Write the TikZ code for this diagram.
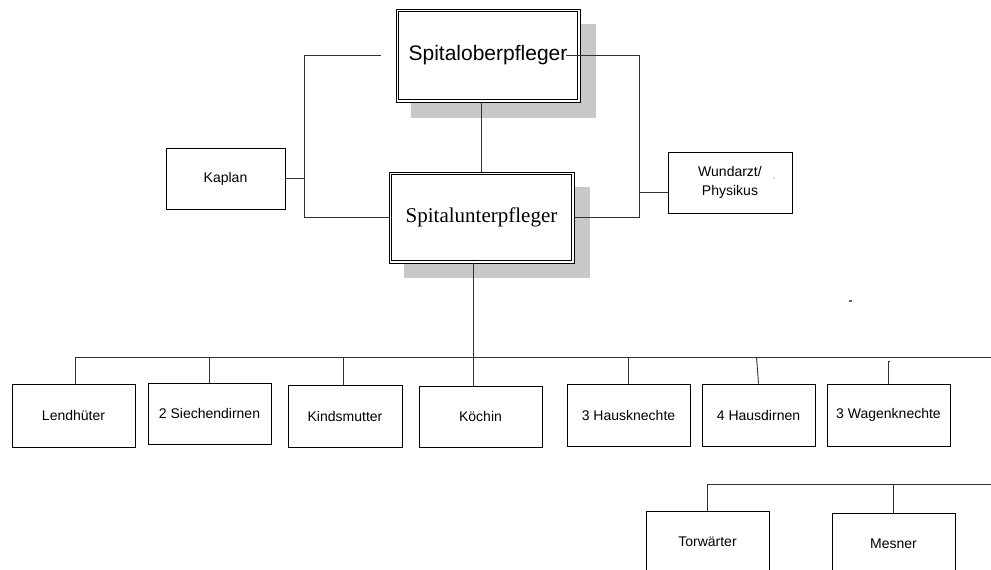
\documentclass[tikz,border=0pt]{standalone}
\usepackage{fontspec}
\setmainfont{Liberation Sans}
\newfontfamily\timesrm{Liberation Serif}
\usetikzlibrary{calc}
\definecolor{shadowc}{RGB}{200,200,200}
\definecolor{linec}{RGB}{50,50,50}
\tikzset{
  x=1pt, y=-1pt,
  smallbox/.style={draw=black, line width=0.9pt, inner sep=0pt, fill=white,
    font=\fontsize{14}{19}\selectfont, align=center},
  bigbox/.style={draw=black, line width=0.9pt, inner sep=0pt, fill=white},
  innerline/.style={draw=black, line width=0.9pt},
  conn/.style={draw=linec, line width=0.9pt}
}
\begin{document}
\begin{tikzpicture}
\clip (0,0) rectangle (991,570);
\fill[white] (0,0) rectangle (991,570);

% shadows
\fill[shadowc] (411,24) rectangle (596,118);
\fill[shadowc] (404,187) rectangle (590,278);

% main boxes
\node[bigbox, minimum width=184pt, minimum height=93pt, font=\fontsize{21}{24}\selectfont]
  (ober) at (488,55.5) {Spitaloberpfleger};
\draw[innerline] ([shift={(3.3pt,-3.3pt)}]ober.north west) rectangle ([shift={(-3.3pt,3.3pt)}]ober.south east);
\node[bigbox, minimum width=185pt, minimum height=91pt, font=\timesrm\fontsize{21}{24}\selectfont]
  (unter) at (481.5,217.5) {Spitalunterpfleger};
\draw[innerline] ([shift={(3.3pt,-3.3pt)}]unter.north west) rectangle ([shift={(-3.3pt,3.3pt)}]unter.south east);

% side boxes
\node[smallbox, minimum width=119pt, minimum height=61pt] (kap) at (225.5,178.5) {Kaplan};
\node[smallbox, minimum width=124pt, minimum height=61pt] (wund) at (730,182.5) {Wundarzt/\\Physikus};

% lower row
\node[smallbox, minimum width=123pt, minimum height=63pt] (lend) at (73.5,415.5) {Lendhüter};
\node[smallbox, minimum width=123pt, minimum height=61pt] (sie) at (209.5,413.5) {2 Siechendirnen};
\node[smallbox, minimum width=114pt, minimum height=62pt] (kind) at (345,416) {Kindsmutter};
\node[smallbox, minimum width=123pt, minimum height=61pt] (koch) at (480.5,416.5) {Köchin};
\node[smallbox, minimum width=123pt, minimum height=62pt] (hk) at (628.5,415) {3 Hausknechte};
\node[smallbox, minimum width=113pt, minimum height=62pt] (hd) at (758.5,415) {4 Hausdirnen};
\node[smallbox, minimum width=123pt, minimum height=62pt] (wk) at (888.5,415) {3 Wagenknechte};

% bottom row
\node[smallbox, minimum width=123pt, minimum height=62pt] (tor) at (707.5,542) {Torwärter};
\node[smallbox, minimum width=123pt, minimum height=62pt] (mes) at (893.5,544) {Mesner};

% coordinates
\coordinate (lt) at (381,55);
\coordinate (lv) at (304,217.5);
\coordinate (rt) at (566,55);
\coordinate (rv) at (639,217.5);
\coordinate (busR) at (991,357);
\coordinate (bus2R) at (991,484);

% connectors upper
\draw[conn] (lt) -| (lv) -- (unter.west);
\draw[conn] (kap.east) -- (kap.east -| lv);
\draw[conn] (rt) -| (rv) -- (unter.east);
\draw[conn] ([yshift=-9.5pt]wund.west) -- ([yshift=-9.5pt]wund.west -| rv);
\draw[conn] (unter.north) -- (unter.north |- ober.south);

% connectors lower
\draw[conn] ([xshift=-8.5pt]unter.south) -- ([xshift=-8.5pt]unter.south |- koch.north);
\draw[conn] ([xshift=1.5pt]lend.north) |- (busR);
\draw[conn] (sie.north) -- (sie.north |- busR);
\draw[conn] ([xshift=-2pt]kind.north) -- ([xshift=-2pt]kind.north |- busR);
\draw[conn] (hk.north) -- (hk.north |- busR);
\draw[conn] (hd.north) -- ([xshift=-2pt]hd.north |- busR);
\draw[conn] (wk.north) -- ([yshift=-4pt]wk.north |- busR) -- ++(1.5pt,0);

\draw[conn] (tor.north) |- (bus2R);
\draw[conn] (mes.north) -- (mes.north |- bus2R);

% small marks
\fill[gray] (774,178) circle (0.6pt);
\fill[gray!80!black] (848.5,300.4) rectangle (852,301.8);
\end{tikzpicture}
\end{document}
